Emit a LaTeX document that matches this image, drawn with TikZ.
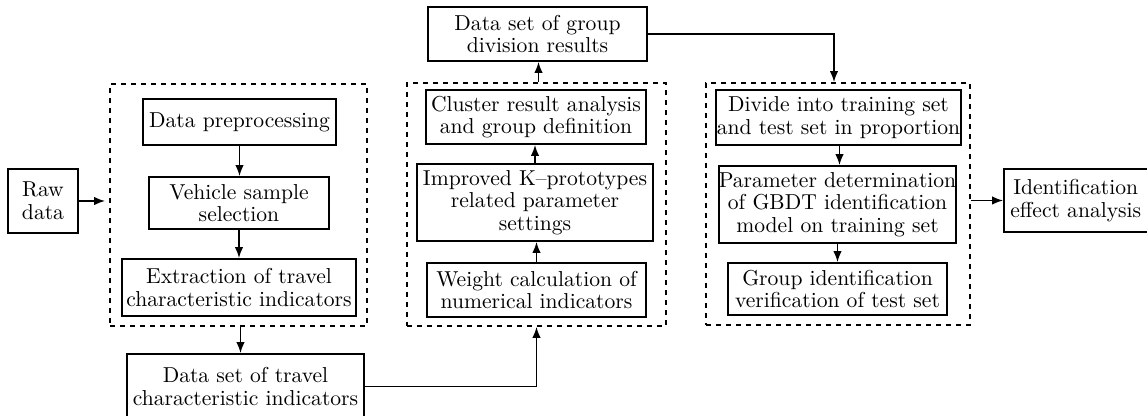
\documentclass[tikz,border=0pt]{standalone}
\usepackage{fontspec}
\usetikzlibrary{arrows.meta,calc}
\begin{document}
\begin{tikzpicture}[x=0.5pt,y=-0.5pt,
  blk/.style={draw,line width=0.8pt,inner sep=0pt,align=center,
    font=\fontsize{10.8}{11.3}\selectfont},
  grpbox/.style={draw,line width=0.8pt,dash pattern=on 2.7pt off 2.3pt,inner sep=0pt},
  conn/.style={line width=0.9pt,-{Latex[length=5.5pt,width=4.2pt]}},
  wire/.style={line width=0.9pt}]
\useasboundingbox (0,0) rectangle (1147,416);
\clip (0,0) rectangle (1147,416);

% stage frames
\node[grpbox,minimum width=128.5pt,minimum height=121pt] (g1) at (238.5,205) {};
\node[grpbox,minimum width=129.5pt,minimum height=121.5pt] (g2) at (536.5,204.5) {};
\node[grpbox,minimum width=132pt,minimum height=121pt] (g3) at (838,204) {};

% input
\node[blk,minimum width=35pt,minimum height=32pt] (raw) at (43,201) {Raw\\data};

% stage 1: feature extraction
\node[blk,minimum width=96.5pt,minimum height=23pt] (pre) at (239.5,122) {Data preprocessing};
\node[blk,minimum width=90pt,minimum height=26pt] (veh) at (239,203) {Vehicle sample\\selection};
\node[blk,minimum width=117pt,minimum height=28.5pt] (ext) at (239,287.5) {Extraction of travel\\characteristic indicators};
\node[blk,minimum width=118.5pt,minimum height=32.5pt] (dtr) at (245.5,386.5) {Data set of travel\\characteristic indicators};

% stage 2: clustering
\node[blk,minimum width=109.5pt,minimum height=27pt] (grp) at (537.5,34) {Data set of group\\division results};
\node[blk,minimum width=110pt,minimum height=27pt] (clu) at (536,117) {Cluster result analysis\\and group definition};
\node[blk,minimum width=118pt,minimum height=38.5pt] (imp) at (535,202.5) {Improved K--prototypes\\related parameter\\settings};
\node[blk,minimum width=109.5pt,minimum height=27pt] (wei) at (536.5,290) {Weight calculation of\\numerical indicators};

% stage 3: identification
\node[blk,minimum width=122.5pt,minimum height=27.5pt] (div) at (838.5,117.5) {Divide into training set\\and test set in proportion};
\node[blk,minimum width=118.5pt,minimum height=38.5pt] (par) at (837.5,204.5) {Parameter determination\\of GBDT identification\\model on training set};
\node[blk,minimum width=109.5pt,minimum height=26pt] (gid) at (837.5,289) {Group identification\\verification of test set};

% output
\node[blk,minimum width=71.75pt,minimum height=31.5pt] (ide) at (1075.75,200.5) {Identification\\effect analysis};

% connectors
\draw[conn] (raw.east) -- ([xshift=-2pt]raw.east -| g1.west);
\draw[conn] (pre.south) -- (pre.south |- veh.north);
\draw[conn] (veh.south) -- (veh.south |- ext.north);
\draw[conn] (g1.south -| dtr.north) ++(-5,0) coordinate (s1) -- (s1 |- dtr.north);
\draw[conn] (dtr.east) -| (g2.south);
\draw[conn] (wei.north) -- (wei.north |- imp.south);
\draw[conn] (imp.north) -- (imp.north |- clu.south);
\draw[conn] ([xshift=1pt]g2.north) -- ([xshift=1pt]g2.north |- grp.south);
\draw[conn] (grp.east) -| ([xshift=-2pt]g3.north);
\draw[conn] ([xshift=0.5pt]div.south) -- ([xshift=0.5pt]div.south |- par.north);
\draw[conn] (par.south) -- (par.south |- gid.north);
\draw[conn] (ide.west -| g3.east) -- (ide.west);
\end{tikzpicture}
\end{document}
